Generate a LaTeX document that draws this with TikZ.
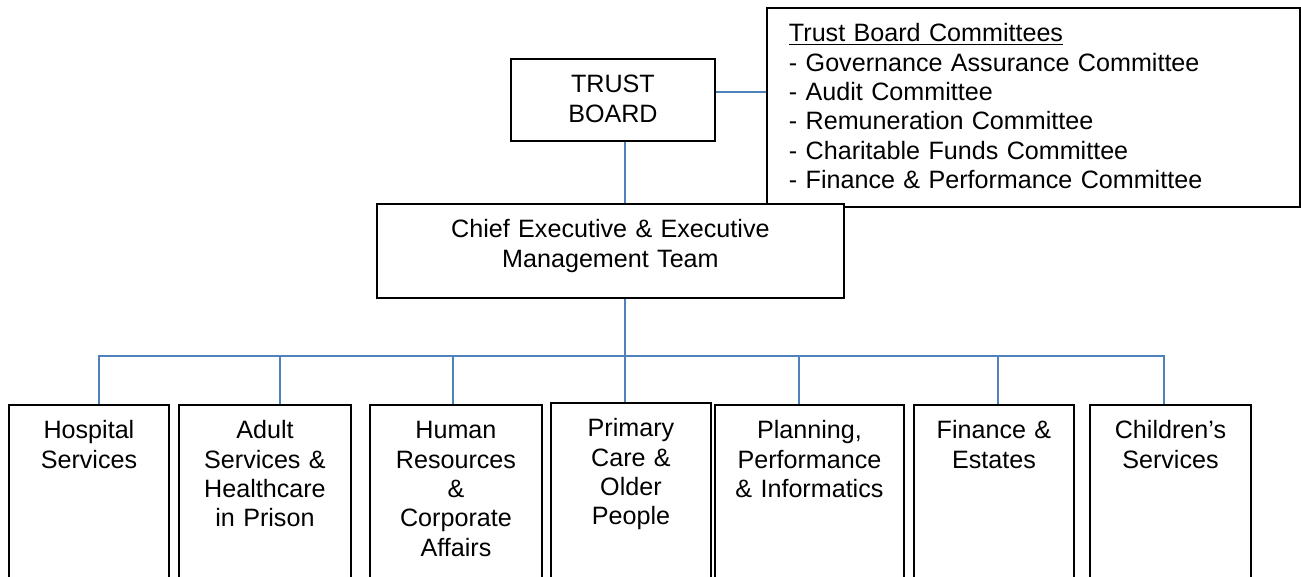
\documentclass[tikz,border=0pt]{standalone}
\usepackage{fontspec}
\setmainfont{Liberation Sans}
\definecolor{linkblue}{HTML}{4F81BD}
\tikzset{
    unit/.style={draw, line width=1.1pt, fill=white, inner sep=0pt, align=center,
        text height=0.68cm, anchor=north west, font=\fontsize{14.3pt}{16.7pt}\selectfont},
    link/.style={linkblue, line width=1pt}
}
\begin{document}
\begin{tikzpicture}[x=0.02cm, y=-0.02cm]
    \useasboundingbox (0,0) rectangle (1301,576);
    \clip (0,0) rectangle (1301,576);

    % Board, committees and executive
    \node[unit, align=left, text width=9.78cm, inner xsep=0.44cm, text depth=3.3cm] (comm) at (766,7)
        {\underline{Trust Board Committees}\\- Governance Assurance Committee\\- Audit Committee\\- Remuneration Committee\\- Charitable Funds Committee\\- Finance \& Performance Committee};
    \node[unit, text width=4.08cm, text depth=0.96cm] (trust) at (510,58) {TRUST\\BOARD};
    \node[unit, text width=9.34cm, text depth=1.2cm] (chief) at (376,203) {Chief Executive \& Executive\\Management Team};

    % Directorates
    \node[unit, text width=3.2cm, text depth=3.12cm] (hosp) at (8,404) {Hospital\\Services};
    \node[unit, text width=3.44cm, text depth=3.12cm] (adult) at (178,404) {Adult\\Services \&\\Healthcare\\in Prison};
    \node[unit, text width=3.44cm, text depth=3.12cm] (hr) at (369,404) {Human\\Resources\\\&\\Corporate\\Affairs};
    \node[unit, text width=3.2cm, text depth=3.12cm] (prim) at (550,402) {Primary\\Care \&\\Older\\People};
    \node[unit, text width=3.78cm, text depth=3.12cm] (plan) at (714,404) {Planning,\\Performance\\\& Informatics};
    \node[unit, text width=3.2cm, text depth=3.12cm] (fin) at (913,404) {Finance \&\\Estates};
    \node[unit, text width=3.22cm, text depth=3.12cm] (child) at (1089,404) {Children’s\\Services};

    % Connectors
    \coordinate (tb) at ([yshift=0.16cm]trust.east);
    \coordinate (trunk) at ([xshift=0.24cm]trust.south);
    \coordinate (bus) at (624,356);
    \draw[link] (tb) -- (tb -| comm.west);
    \draw[link] (trunk) -- (trunk |- chief.north);
    \draw[link] (trunk |- chief.south) -- (trunk |- prim.north);
    \draw[link] ([xshift=2mm]hosp.north) |- (bus);
    \draw[link] ([xshift=3mm]adult.north) |- (bus);
    \draw[link] ([xshift=-0.6mm]hr.north) |- (bus);
    \draw[link] ([xshift=-2.1mm]plan.north) |- (bus);
    \draw[link] ([xshift=0.8mm]fin.north) |- (bus);
    \draw[link] ([xshift=-1.3mm]child.north) |- (bus);
\end{tikzpicture}
\end{document}
